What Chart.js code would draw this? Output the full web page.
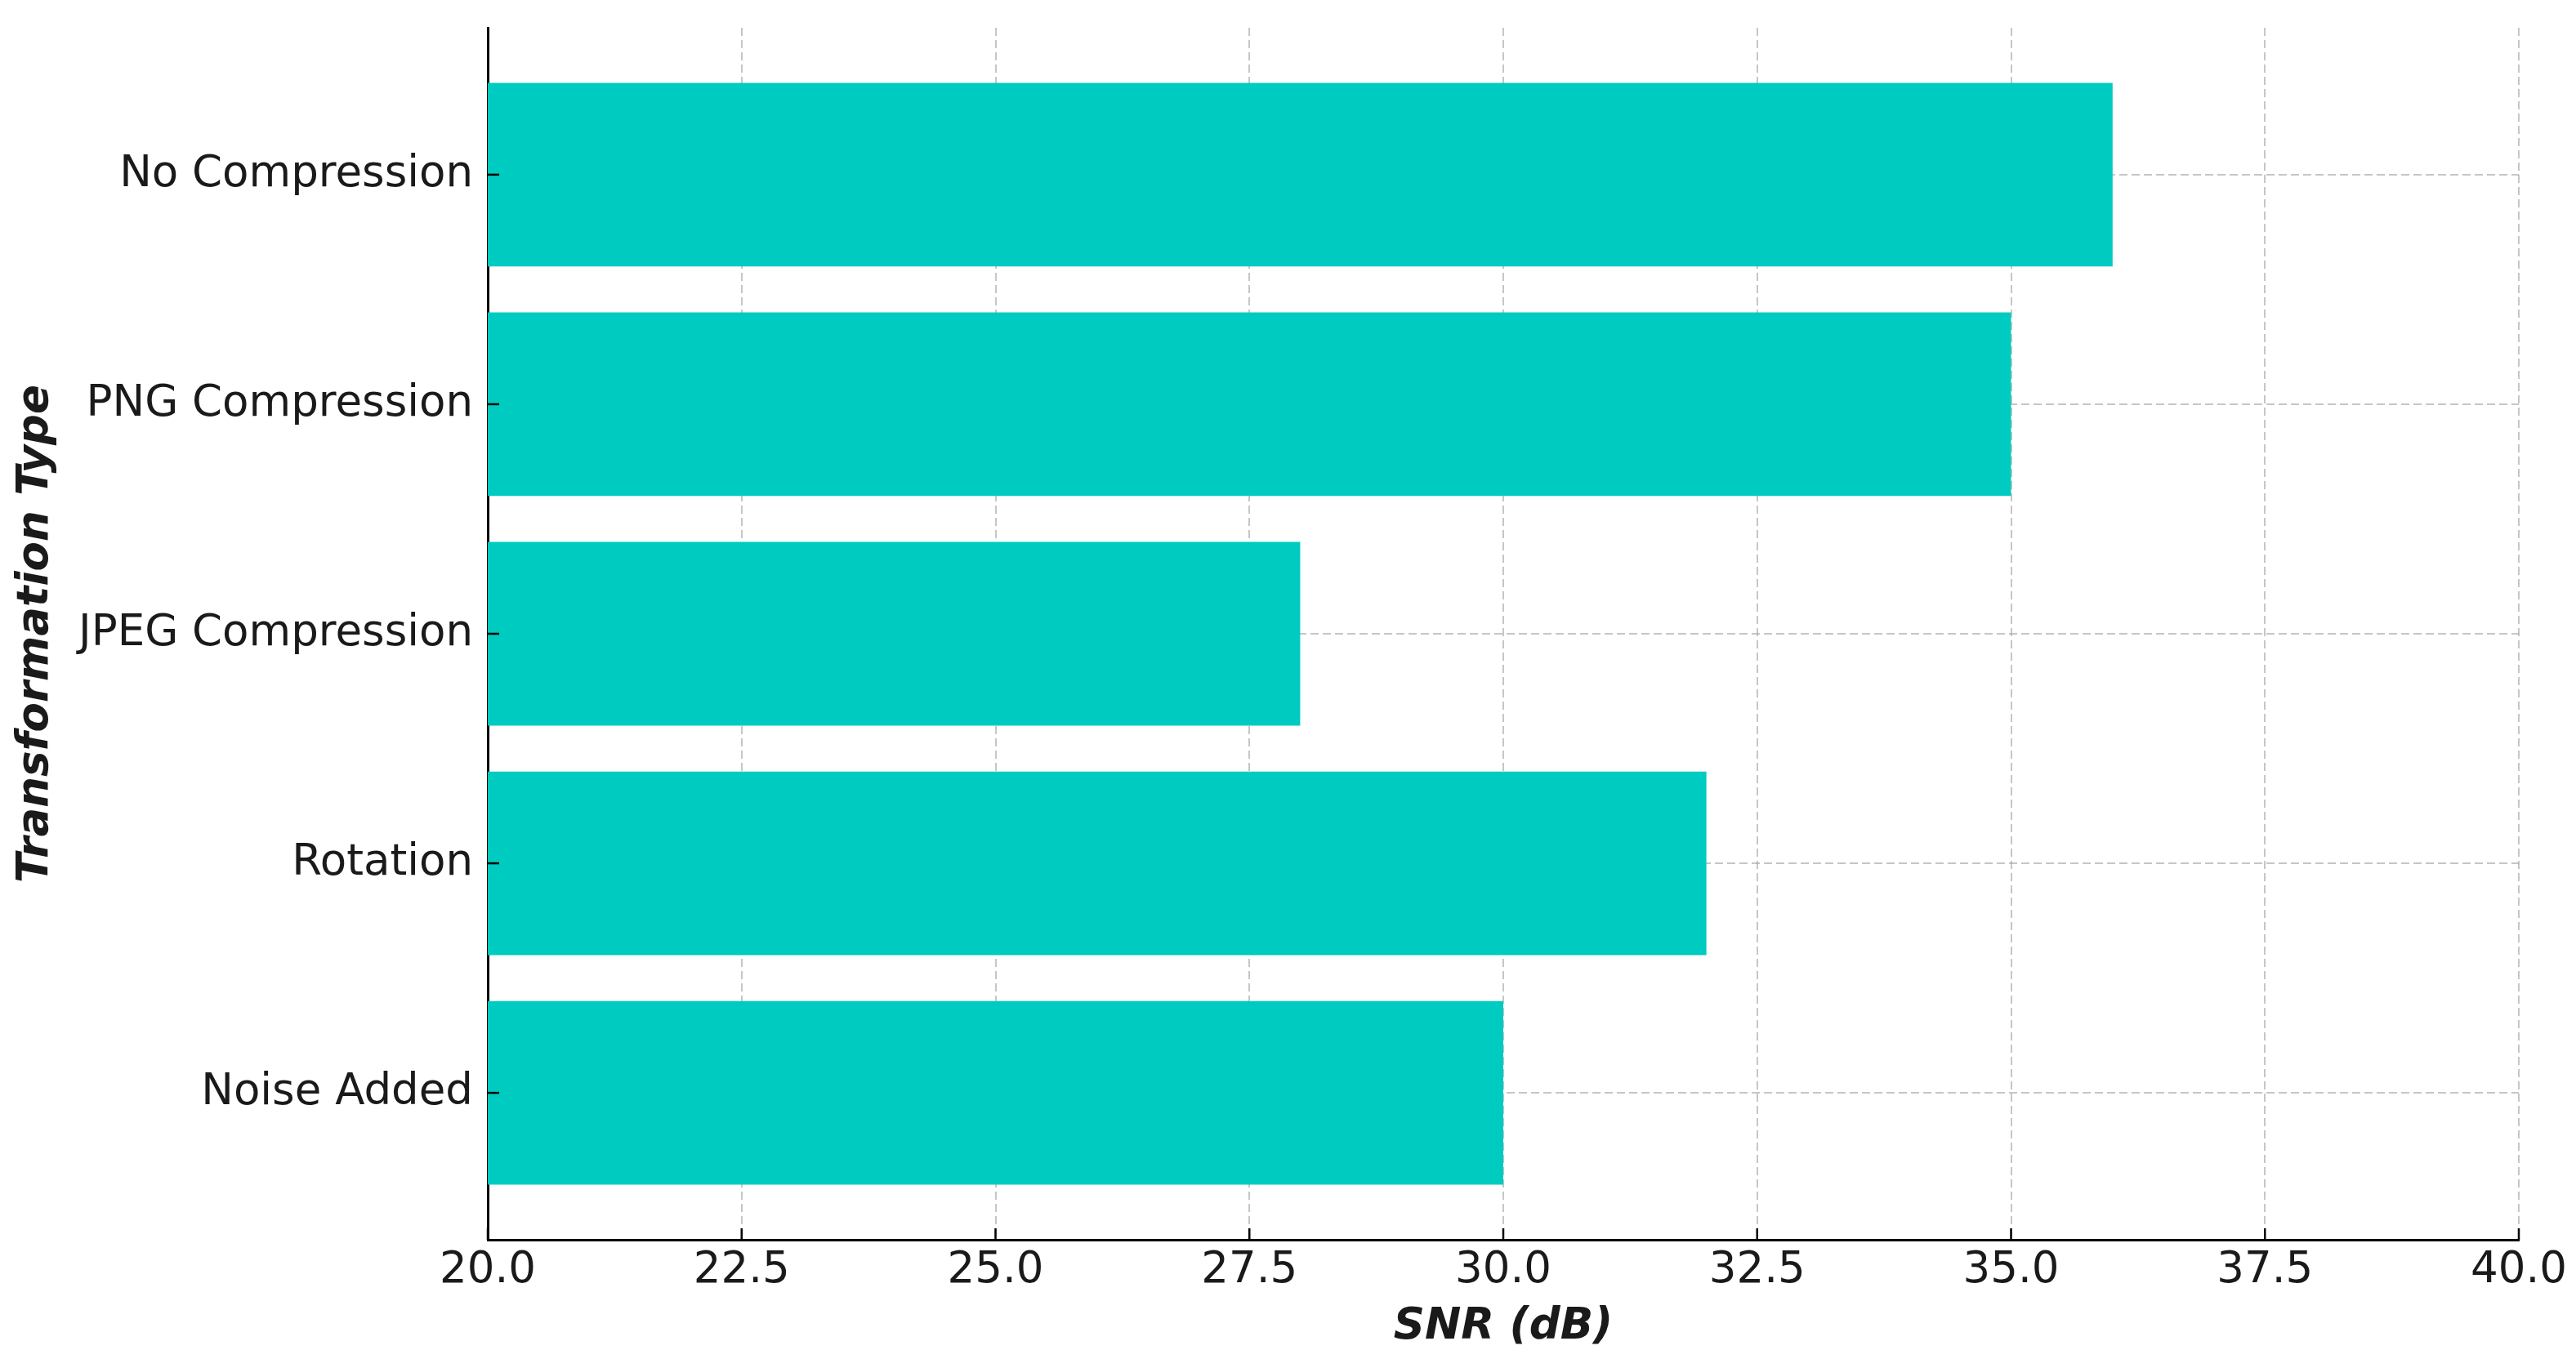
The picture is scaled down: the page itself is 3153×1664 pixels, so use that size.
<!DOCTYPE html>
<html>
<head>
<meta charset="utf-8">
<script src="https://cdn.jsdelivr.net/npm/chart.js@4/dist/chart.umd.min.js"></script>
<style>
  html, body { margin: 0; padding: 0; background: #ffffff; }
  #wrap { width: 3153px; height: 1664px; position: relative; }
</style>
</head>
<body>
<div id="wrap"><canvas id="c" width="3153" height="1664"></canvas></div>
<script>
const categories = ["No Compression", "PNG Compression", "JPEG Compression", "Rotation", "Noise Added"];
const snrValues = [36, 35, 28, 32, 30];
const xTicks = [20.0, 22.5, 25.0, 27.5, 30.0, 32.5, 35.0, 37.5, 40.0];
const xTitle = "SNR (dB)";
const yTitle = "Transformation Type";

const TEXT = '#1a1a1a';
const FONT = 'DejaVu Sans';
Chart.defaults.font.family = FONT;
Chart.defaults.color = TEXT;

const inwardTicks = {
  id: 'inwardTicks',
  afterDraw(chart) {
    const ctx = chart.ctx;
    const xs = chart.scales.x, ys = chart.scales.y;
    const area = chart.chartArea;
    ctx.save();
    ctx.strokeStyle = '#000';
    ctx.lineWidth = 2.5;
    xs.ticks.forEach(t => {
      const px = xs.getPixelForValue(t.value);
      ctx.beginPath(); ctx.moveTo(px, area.bottom); ctx.lineTo(px, area.bottom - 14); ctx.stroke();
    });
    ys.ticks.forEach(t => {
      const py = ys.getPixelForValue(t.value);
      ctx.beginPath(); ctx.moveTo(area.left, py); ctx.lineTo(area.left + 14, py); ctx.stroke();
    });
    ctx.restore();
  }
};

new Chart(document.getElementById('c'), {
  type: 'bar',
  data: {
    datasets: [{
      data: snrValues.map((v, i) => ({ x: v, y: i })),
      backgroundColor: '#00CBC0',
      borderWidth: 0,
      barPercentage: 0.8,
      categoryPercentage: 1.0
    }]
  },
  options: {
    indexAxis: 'y',
    responsive: false,
    animation: false,
    devicePixelRatio: 1,
    layout: { padding: { top: 34, right: 70, left: 0, bottom: 0 } },
    plugins: { legend: { display: false }, tooltip: { enabled: false } },
    scales: {
      x: {
        type: 'linear',
        position: 'bottom',
        min: 20, max: 40,
        offset: false,
        z: 1,
        afterBuildTicks: s => { s.ticks = xTicks.map(v => ({ value: v })); },
        afterFit: s => { s.height = 146; s.paddingLeft = 0; s.paddingRight = 0; },
        ticks: {
          callback: v => Number(v).toFixed(1),
          font: { size: 53 },
          color: TEXT,
          padding: 6,
          maxRotation: 0
        },
        grid: {
          color: 'rgba(160,160,160,0.6)',
          lineWidth: 2,
          drawTicks: false,
          offset: false
        },
        border: { display: true, color: '#000', width: 3, dash: [10, 5] },
        title: {
          display: true,
          text: xTitle,
          font: { size: 53, weight: 'bold', style: 'italic' },
          color: TEXT,
          padding: { top: 0, bottom: 7 }
        }
      },
      y: {
        type: 'linear',
        position: 'left',
        reverse: true,
        min: -0.64, max: 4.64,
        offset: false,
        z: 1,
        afterBuildTicks: s => { s.ticks = categories.map((c, i) => ({ value: i })); },
        afterFit: s => { s.width = 597; s.paddingTop = 0; s.paddingBottom = 0; },
        ticks: {
          callback: v => categories[v],
          font: { size: 53 },
          color: TEXT,
          padding: 18
        },
        grid: {
          color: 'rgba(160,160,160,0.6)',
          lineWidth: 2,
          drawTicks: false,
          offset: false
        },
        border: { display: true, color: '#000', width: 3, dash: [10, 5] },
        title: {
          display: true,
          text: yTitle,
          font: { size: 53, weight: 'bold', style: 'italic' },
          color: TEXT,
          padding: { top: 12, bottom: 0 }
        }
      }
    }
  },
  plugins: [inwardTicks]
});
</script>
</body>
</html>
